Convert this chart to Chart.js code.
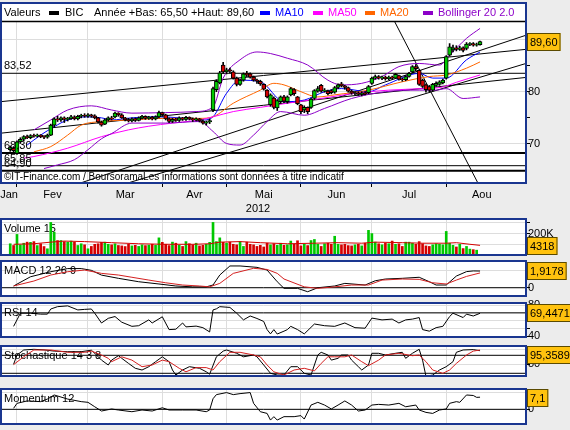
<!DOCTYPE html>
<html>
<head>
<meta charset="utf-8">
<script src="https://cdn.jsdelivr.net/npm/chart.js@4.4.1/dist/chart.umd.min.js"></script>
<style>
  body { margin: 0; background: #ececec; }
  #wrap { position: relative; width: 570px; height: 430px; overflow: hidden; }
  canvas { position: absolute; left: 0; }
</style>
</head>
<body>
<div id="wrap">
  <canvas id="cMain" width="570" height="215" style="top:0"></canvas>
  <canvas id="cVol" width="570" height="52" style="top:211px"></canvas>
  <canvas id="cMacd" width="570" height="51" style="top:253px"></canvas>
  <canvas id="cRsi" width="570" height="50" style="top:295px"></canvas>
  <canvas id="cSto" width="570" height="46" style="top:338px"></canvas>
  <canvas id="cMom" width="570" height="51" style="top:381px"></canvas>
</div>
<script>
// trading day index of first candle (0 = 1 Feb 2012)
const firstDay = -2;

const opens = [
  68.9,69.3,68.2,70.4,70.9,71.4,71.2,71.6,71.5,71.7,
  71.4,71.3,71.7,73.6,74.8,74.6,75.0,74.7,74.9,75.2,
  74.8,75.3,75.5,75.3,75.6,75.4,75.0,74.2,73.8,74.6,
  75.0,75.2,75.9,75.6,75.0,74.6,74.4,74.8,74.5,75.0,
  75.3,74.9,75.1,74.8,75.2,76.0,75.6,74.8,74.3,74.7,
  74.5,75.0,74.7,75.1,74.8,74.6,74.8,74.4,74.0,74.2,
  76.5,80.4,81.7,85.1,83.8,84.2,83.8,82.6,81.4,82.2,
  83.5,83.4,82.8,82.2,82.0,81.4,80.3,77.5,78.8,76.9,
  78.1,79.0,78.1,79.4,80.4,79.0,77.5,76.5,77.0,77.0,
  78.7,80.1,81.2,80.1,80.1,80.2,79.9,80.8,81.5,81.1,
  80.8,80.1,79.7,79.8,79.5,79.8,79.8,81.6,82.6,82.9,
  82.6,82.8,82.5,82.8,82.6,83.1,82.4,82.3,82.9,83.8,
  84.8,84.1,82.2,81.3,81.0,80.3,81.2,81.4,81.7,82.6,
  87.0,88.0,88.4,88.1,88.4,88.3,89.1,89.2,88.9,89.0
];
const closes = [
  69.3,68.7,70.4,70.9,71.4,71.2,71.6,71.5,71.7,71.4,
  71.3,71.7,73.6,74.8,74.6,75.0,74.7,74.9,75.2,74.8,
  75.3,75.5,75.3,75.6,75.4,75.0,74.2,73.6,74.6,75.0,
  74.8,75.9,75.6,75.0,74.6,74.4,74.8,74.5,75.0,75.3,
  74.9,75.1,74.8,75.2,76.0,75.6,74.8,74.3,74.7,74.5,
  75.0,74.7,75.1,74.8,74.6,74.8,74.4,74.0,74.2,74.5,
  80.6,82.0,83.6,83.8,84.2,84.0,82.6,81.4,82.2,83.4,
  83.2,82.8,82.2,82.0,81.5,80.5,79.0,79.4,77.0,78.3,
  79.0,78.2,79.0,80.6,79.6,77.7,76.2,77.0,76.2,78.6,
  80.2,80.6,80.1,80.3,79.6,79.8,80.8,81.3,81.1,80.8,
  80.1,79.7,79.8,79.5,79.8,79.6,81.0,82.6,82.9,82.6,
  82.8,82.5,82.8,82.6,83.3,82.4,82.3,82.9,83.5,84.8,
  84.4,81.4,81.0,80.4,80.3,81.4,81.6,81.9,82.2,86.7,
  88.6,88.4,88.1,88.4,87.9,89.1,89.2,88.9,89.0,89.6
];
const highs = [
  69.6,69.5,70.6,71.2,71.6,71.7,71.8,71.9,71.9,71.8,
  71.6,71.9,73.8,75.0,75.3,75.2,75.2,75.1,75.5,75.4,
  75.5,75.7,75.8,75.8,75.7,75.6,75.1,74.4,74.8,75.2,
  75.3,76.1,76.0,75.8,75.1,74.9,75.0,75.0,75.2,75.5,
  75.4,75.3,75.3,75.4,76.3,76.1,75.7,75.0,74.9,74.9,
  75.2,75.1,75.3,75.2,75.0,75.0,74.9,74.6,74.4,74.8,
  80.9,82.3,83.9,85.6,84.5,84.5,84.0,82.8,82.4,83.6,
  83.9,83.6,83.0,82.4,82.2,81.5,80.4,79.6,79.0,78.5,
  79.2,79.3,79.2,80.8,80.6,79.1,77.6,77.3,77.1,78.8,
  80.4,81.0,81.4,80.6,80.3,80.4,81.0,81.5,81.8,81.2,
  80.9,80.3,80.0,80.0,80.0,80.0,81.2,82.8,83.2,83.1,
  83.0,83.0,83.0,83.0,83.5,83.2,82.6,83.1,83.7,85.0,
  85.2,84.2,82.4,81.5,81.2,81.6,81.9,82.1,82.4,86.9,
  89.2,88.9,88.8,88.7,88.6,89.4,89.4,89.4,89.3,89.7
];
const lows = [
  68.6,68.4,68.0,70.1,70.6,71.0,71.0,71.3,71.3,71.2,
  71.0,71.1,71.6,73.2,74.3,74.3,74.1,74.4,74.7,74.6,
  74.6,75.0,75.1,75.1,75.1,74.8,74.0,73.4,73.7,74.4,
  74.6,75.0,75.3,74.9,74.4,74.2,74.2,74.3,74.4,74.8,
  74.7,74.7,74.6,74.6,75.0,75.3,74.6,74.1,74.1,74.3,
  74.3,74.5,74.5,74.6,74.3,74.4,74.2,73.8,73.6,73.9,
  76.2,80.0,81.5,83.5,83.4,83.6,82.4,81.1,81.2,82.0,
  82.9,82.6,82.0,81.6,81.2,80.3,78.8,77.2,76.7,76.4,
  77.8,77.9,77.8,79.2,79.3,77.5,75.8,76.0,75.8,76.8,
  78.5,79.9,79.9,79.9,79.4,79.6,79.7,80.6,80.9,80.5,
  79.9,79.5,79.4,79.3,79.2,79.4,79.6,81.4,82.4,82.4,
  82.3,82.2,82.3,82.4,82.5,82.2,82.0,82.1,82.8,83.6,
  84.0,81.2,80.8,79.9,80.0,80.1,81.0,81.2,81.5,82.4,
  86.8,87.6,87.8,87.9,87.6,88.0,88.8,88.7,88.7,88.9
];
// volume in thousands
const volumes = [
  105,89,192,95,110,120,118,125,88,105,
  79,58,304,213,135,135,125,120,130,120,
  89,105,95,58,80,100,105,118,120,100,
  95,105,89,85,79,100,85,90,80,95,
  88,92,100,90,160,118,100,88,120,110,
  90,80,125,105,95,110,85,90,100,118,
  304,125,160,118,110,120,100,95,125,80,
  120,100,95,80,90,75,110,95,105,90,
  110,90,95,130,100,133,85,100,88,135,
  145,100,80,105,110,100,175,100,95,100,
  88,85,95,100,85,110,230,200,120,105,
  95,110,105,130,100,105,80,120,120,110,
  100,125,105,85,80,95,105,100,95,220,
  110,90,75,100,60,80,55,50,45,4.318
];

// [day, value]
const ma10 = [[3,69.8],[7,71.7],[11,73.3],[15,74.6],[21,75.2],[25,75],[28,74.6],[34,75],[42,75.2],[48,75],[55,74.6],[58,75.2],[62,79.7],[66,82.2],[72,81.9],[79,78.1],[85,78.4],[91,80],[96,80.6],[104,80],[109,81.3],[119,83.5],[123,82.6],[127,82.6],[133,86.1],[137,87.6]];
const ma20 = [[5,68.5],[10,69.5],[15,71.7],[19,73.6],[25,74.3],[34,74.6],[44,74.9],[54,74.9],[58,75.2],[64,77.8],[72,80.3],[76,81.6],[79,81.3],[84,80],[89,79],[94,79.4],[104,80.3],[114,81.9],[122,82.9],[127,83.2],[133,84.5],[137,85.7]];
const ma50 = [[2,67.3],[5,67.6],[15,69.2],[25,71.4],[33,72.7],[39,73.4],[46,74],[54,74.6],[58,75.2],[64,76.2],[72,77],[80,77.8],[90,78.7],[100,79.7],[110,80.3],[120,80.6],[126,80.9],[130,81.8],[137,83.2]];
const bollUp = [[5,72.7],[10,74.6],[15,76.5],[22,77.3],[28,76.5],[34,75.9],[44,76],[53,76.2],[58,77.1],[61,82.6],[66,86.1],[71,87.6],[75,87.3],[80,86.4],[86,85.1],[92,82.2],[96,81.3],[102,81.6],[108,82.9],[113,84.8],[119,85.4],[125,85.1],[128,87],[133,90.2],[137,92.1]];
const bollLow = [[8,65.3],[12,66],[17,67],[21,68.9],[25,71],[28,72],[34,74],[44,74],[54,74.3],[58,72.4],[62,70.1],[66,69.8],[70,71.7],[74,74.3],[78,76.2],[85,75.5],[91,76.8],[99,78.7],[109,80],[119,80.3],[124,80.3],[127,80.6],[132,78.7],[137,79]];

const volMa15 = [[-1,100],[5,105],[10,120],[14,130],[20,125],[28,115],[36,105],[44,100],[52,100],[57,105],[60,120],[66,125],[72,115],[80,105],[88,110],[95,115],[102,110],[106,120],[114,115],[120,110],[127,110],[130,115],[134,100],[137,90]];
const macdLine = [[-1,0.2],[4,1.26],[10,1.84],[15,2.2],[19,2.2],[22,2.0],[25,1.45],[30,1.08],[36,0.69],[42,0.43],[47,0.2],[52,0.1],[56,0.1],[58,0.31],[60,1.46],[63,2.5],[66,2.5],[71,2.34],[74,2.03],[77,0.69],[79,-0.07],[83,-0.07],[86,-0.46],[89,0],[94,0.2],[97,0.5],[103,0.31],[106,0.8],[109,1.0],[114,1.08],[119,1.2],[122,0.69],[124,0.31],[127,0.31],[130,1.34],[133,1.85],[135,1.93],[137,1.9178]];
const macdSignal = [[-1,0.2],[5,0.77],[10,1.46],[15,1.84],[20,2.03],[25,1.65],[30,1.46],[34,1.2],[39,0.88],[44,0.57],[49,0.31],[54,0.2],[57,0.1],[60,0.5],[64,1.65],[70,2.23],[74,2.1],[77,1.65],[79,1.0],[85,0.1],[89,-0.07],[94,0.1],[99,0.31],[104,0.31],[108,0.88],[114,1.0],[119,0.96],[123,0.57],[127,0.43],[130,0.88],[133,1.3],[137,1.7]];
const rsi14 = [[-1,52.7],[0,61],[1,69.6],[4,69.6],[7,68.4],[9,68.4],[10,75],[12,78],[15,79],[18,73.8],[20,74.5],[22,75],[23,69.6],[25,57],[27,63],[29,65.3],[31,58],[34,52.7],[36,53.5],[39,61],[40,57],[43,65],[45,48.5],[47,49],[49,57],[50,52],[53,53],[55,51],[57,45.5],[58,73.8],[59,75.2],[60,78],[63,77],[65,69.6],[67,61],[69,66],[71,62.8],[73,59],[74,48.5],[75,43],[76,48.5],[77,42.8],[79,46.5],[80,48.5],[81,52.7],[83,48.5],[85,43],[88,55.7],[91,53.5],[94,52.7],[97,57],[100,51],[103,50.3],[105,63.3],[108,61],[111,62],[113,57],[115,61],[117,62],[119,64],[120,48.5],[122,46.5],[124,51],[126,52.7],[128,65.3],[129,69.6],[132,64],[133,68.4],[135,66],[137,69.4471]];
const stochK = [[-1,50],[0,81],[2,97.7],[5,100],[8,98],[11,94],[15,92],[19,92],[22,97],[23,86.7],[25,64],[27,47.7],[28,64],[30,78.7],[31,70],[33,53],[35,36.7],[37,31],[39,42],[41,58.7],[43,75],[45,58.7],[46,31],[47,14.3],[49,31],[51,42],[54,36.7],[56,25],[57,17],[59,75],[61,94],[62,97.7],[65,86.7],[67,75],[70,81],[71,75],[73,47.7],[75,20],[77,14.3],[79,14.3],[81,42],[83,42],[85,20],[87,14.3],[88,47.7],[89,81],[90,90],[92,81],[93,64],[95,70],[96,81],[98,81],[99,64],[101,42],[102,31],[104,47.7],[105,86.7],[107,86.7],[109,81],[112,86.7],[114,90],[115,70],[117,86.7],[119,100],[120,64],[121,10],[123,14.3],[125,31],[127,42],[129,58.7],[130,90],[132,97.7],[135,99],[137,95.3589]];
const stochD = [[-1,49],[2,75],[5,97.7],[10,97.7],[15,90],[20,90],[22,94],[25,81],[27,70],[28,58.7],[31,75],[34,64],[37,42],[40,47.7],[43,64],[45,58.7],[48,36.7],[50,25],[53,39],[56,39],[58,31],[60,58.7],[63,90],[66,90],[70,81],[72,75],[74,47.7],[76,25],[79,14.3],[82,31],[85,36.7],[88,28],[90,53],[92,75],[94,75],[97,75],[99,81],[102,58.7],[104,45.5],[107,64],[109,81],[113,86.7],[117,78.7],[119,81],[121,58.7],[123,31],[126,20],[128,31],[130,53],[133,81],[135,94],[137,97.7]];
const momentum12 = [[-1,0.6],[0,3.5],[3,4.9],[7,4.5],[9,6],[11,8.4],[15,6],[19,4.5],[21,4.1],[23,1.5],[25,-1],[28,0.2],[30,-0.4],[34,-1.4],[37,-0.4],[40,-1],[43,0.9],[45,-0.4],[49,-0.4],[53,-0.4],[56,-1.4],[57,-0.4],[58,6.2],[59,8.6],[62,9.8],[64,8.6],[66,9.2],[69,9.8],[70,3.5],[72,-1.4],[74,-2.4],[75,-6.3],[76,-4.3],[77,-6.3],[79,-4.3],[82,-4.3],[84,-3.7],[85,-5.7],[87,2.5],[89,4.1],[91,2.5],[93,0.2],[95,2.5],[97,4.9],[99,2.5],[101,-1],[103,-0.4],[105,2.5],[107,2.9],[110,2.5],[113,3.5],[115,1.5],[118,2.5],[119,-0.4],[121,-1.8],[123,-2.4],[125,-0.4],[127,0.2],[128,3.5],[130,4.5],[131,4.1],[133,8.4],[135,8.1],[136,7],[137,7.1]];

// drawn trend lines [[day, price], [day, price]]
const trendLines = [
  [[-4.73,78.1],[150.6,88.1]],
  [[-4.73,72.07],[150.6,82.73]],
  [[18.6,62.5],[150.6,90.8]],
  [[32.6,62.5],[150.6,85.4]],
  [[111.5,93.7],[136.4,62.5]]
];
const levelLines = [83.52, 68.3, 65.85, 64.9];
const levelWidths = [1, 2, 1, 2];

const monthStarts = [-22, 0, 21, 43, 62, 84, 105, 127, 148];
const monthNames = ['Jan','Fev','Mar','Avr','Mai','Jun','Jul','Aou'];

// ---------------------------------------------------------------
const X_MIN = -4.73, X_MAX = 150.6;
const FRAME = '#1a3690';
const GRID = '#dddddd';
const UP = '#00c800', DOWN = '#d40000';
const FONT = '"Liberation Sans", Arial, sans-serif';

Chart.defaults.font.family = FONT;
Chart.defaults.font.size = 11;
Chart.defaults.color = '#000';
Chart.defaults.animation = false;
Chart.defaults.events = [];
Chart.defaults.plugins.legend.display = false;
Chart.defaults.plugins.tooltip.enabled = false;

function pts(pairs) { return pairs.map(p => ({x: p[0], y: p[1]})); }
function hline(v, w) {
  return {type: 'line', data: [{x: X_MIN, y: v}, {x: X_MAX, y: v}], borderColor: '#000',
          borderWidth: w || 1, pointRadius: 0, order: 5, clip: 0};
}
function lineDs(pairs, color, smooth) {
  return {type: 'line', data: pts(pairs), borderColor: color, borderWidth: 1, pointRadius: 0,
          fill: false, cubicInterpolationMode: smooth ? 'monotone' : 'default', tension: 0,
          order: 3, clip: 0};
}

function xAxis(h, tickLen) {
  return {
    type: 'linear', min: X_MIN, max: X_MAX, offset: false,
    afterBuildTicks: s => { s.ticks = monthStarts.slice(1, -1).map(v => ({value: v})); },
    ticks: {display: false},
    grid: {color: GRID, offset: false, drawTicks: tickLen > 0, tickLength: tickLen, tickColor: '#000'},
    border: {display: false},
    afterFit: s => { s.height = h; s.paddingLeft = 0; s.paddingRight = 0; }
  };
}
function yAxis(min, max, ticks, labelFn, gridFn) {
  return {
    type: 'linear', position: 'right', min: min, max: max,
    afterBuildTicks: s => { s.ticks = ticks.map(v => ({value: v})); },
    ticks: {callback: labelFn, padding: -2, autoSkip: false, maxRotation: 0, font: {size: 11}},
    grid: {color: gridFn || GRID, tickLength: 4, tickColor: '#000'},
    border: {display: false},
    afterFit: s => { s.width = 44; s.paddingTop = 0; s.paddingBottom = 0; }
  };
}

function valueBox(ctx, text, y, a) {
  ctx.save();
  ctx.font = '11px ' + FONT;
  const w = ctx.measureText(text).width + 6;
  const yc = Math.max(a.top + 9, Math.min(a.bottom - 9, y));
  ctx.fillStyle = '#ffc20e';
  ctx.fillRect(527, Math.round(yc - 9), w, 18);
  ctx.strokeStyle = '#5a4a00';
  ctx.lineWidth = 1;
  ctx.strokeRect(527.5, Math.round(yc - 9) + 0.5, w - 1, 17);
  ctx.fillStyle = '#000';
  ctx.textBaseline = 'middle';
  ctx.fillText(text, 530, Math.round(yc) + 1);
  ctx.restore();
}

function fmt(v, d) { return v.toFixed(d).replace('.', ','); }

// sub panel decoration: white bg, title, frame, last value box
function subDeco(title, boxText, boxValue) {
  return {
    id: 'subDeco',
    beforeDraw(chart) {
      const {ctx, chartArea: a} = chart;
      ctx.save();
      ctx.fillStyle = '#fff';
      ctx.fillRect(a.left, a.top, a.right - a.left, a.bottom - a.top);
      ctx.restore();
    },
    beforeDatasetsDraw(chart) {
      const {ctx, chartArea: a} = chart;
      ctx.save();
      ctx.font = '11px ' + FONT;
      ctx.fillStyle = '#000';
      ctx.textBaseline = 'middle';
      ctx.fillText(title, 4, a.top + 10);
      ctx.restore();
    },
    afterDraw(chart) {
      const {ctx, chartArea: a} = chart;
      ctx.save();
      ctx.strokeStyle = FRAME;
      ctx.lineWidth = 2;
      ctx.strokeRect(a.left, a.top, a.right - a.left, a.bottom - a.top);
      ctx.restore();
      valueBox(ctx, boxText, chart.scales.y.getPixelForValue(boxValue), a);
    }
  };
}

// ---------------- main price panel ----------------
const candles = opens.map((o, i) => ({x: firstDay + i, y: [o, closes[i]]}));
const wicks = lows.map((l, i) => ({x: firstDay + i, y: [l, highs[i]]}));
const lastClose = closes[closes.length - 1];

const mainDeco = {
  id: 'mainDeco',
  beforeDraw(chart) {
    const ctx = chart.ctx;
    ctx.save();
    ctx.fillStyle = '#fff';
    ctx.fillRect(1, 3, 525, 180);
    ctx.restore();
  },
  afterDatasetsDraw(chart) {
    const {ctx, chartArea: a} = chart;
    const y = chart.scales.y;
    ctx.save();
    ctx.font = '11px ' + FONT;
    ctx.fillStyle = '#000';
    ctx.textBaseline = 'middle';
    levelLines.forEach(v => ctx.fillText(fmt(v, 2), 4, y.getPixelForValue(v) - 7));
    ctx.font = '10px ' + FONT;
    ctx.fillText('\u00a9IT-Finance.com / BoursoramaLes informations sont donn\u00e9es \u00e0 titre indicatif', 4, 177);
    ctx.restore();
  },
  afterDraw(chart) {
    const {ctx, chartArea: a} = chart;
    const x = chart.scales.x;
    ctx.save();
    // header legend
    ctx.font = '11px ' + FONT;
    ctx.textBaseline = 'middle';
    const hy = 13;
    ctx.fillStyle = '#000';
    ctx.fillText('Valeurs', 4, hy);
    ctx.fillRect(49, hy - 2, 10, 4);
    ctx.fillText('BIC', 65, hy);
    ctx.fillText('Ann\u00e9e +Bas: 65,50 +Haut: 89,60', 94, hy);
    [['MA10', '#0000ff', 260], ['MA50', '#ff00ff', 313], ['MA20', '#ff6600', 365], ['Bollinger 20 2.0', '#8c00c8', 423]]
      .forEach(([t, c, px]) => {
        ctx.fillStyle = c;
        ctx.fillRect(px, hy - 2, 10, 4);
        ctx.fillText(t, px + 15, hy);
      });
    // header separator
    ctx.strokeStyle = '#000';
    ctx.lineWidth = 1.5;
    ctx.beginPath(); ctx.moveTo(1, 21.5); ctx.lineTo(526, 21.5); ctx.stroke();
    // frame
    ctx.strokeStyle = FRAME;
    ctx.lineWidth = 2;
    ctx.strokeRect(1, 3, 525, a.bottom - 3);
    // month labels
    ctx.fillStyle = '#000';
    ctx.textAlign = 'center';
    monthNames.forEach((m, i) => {
      const s = Math.max(monthStarts[i], X_MIN), e = Math.min(monthStarts[i + 1], X_MAX);
      ctx.fillText(m, x.getPixelForValue((s + e) / 2), 195);
    });
    ctx.fillText('2012', 258, 209);
    ctx.restore();
    valueBox(ctx, fmt(lastClose, 2), chart.scales.y.getPixelForValue(lastClose), a);
  }
};

new Chart(document.getElementById('cMain'), {
  type: 'bar',
  data: {
    datasets: [
      ...trendLines.map(l => ({type: 'line', data: pts(l), borderColor: '#000', borderWidth: 1,
                               pointRadius: 0, order: 6, clip: 0})),
      ...levelLines.map((v, i) => hline(v, levelWidths[i])),
      lineDs(bollUp, '#8c00c8', true),
      lineDs(bollLow, '#8c00c8', true),
      lineDs(ma50, '#ff00ff', true),
      lineDs(ma20, '#ff6600', true),
      lineDs(ma10, '#0000ff', true),
      {type: 'bar', data: wicks, backgroundColor: '#000', barThickness: 1, grouped: false, order: 2, clip: 0},
      {type: 'bar', data: candles, grouped: false, order: 1, clip: 0,
       backgroundColor: c => (c.raw.y[1] >= c.raw.y[0] ? UP : DOWN),
       borderColor: '#000', borderWidth: 1, borderSkipped: false, barThickness: 4}
    ]
  },
  options: {
    responsive: false, devicePixelRatio: 1,
    layout: {padding: {top: 22, left: 1, right: 0, bottom: 0}},
    scales: {
      x: xAxis(32, 4),
      y: yAxis(62.54, 93.33, [70, 75, 80, 85, 90],
               v => (v % 10 === 0 ? String(v) : ''),
               c => (c.tick && c.tick.value % 10 === 0 ? GRID : 'rgba(0,0,0,0)'))
    }
  },
  plugins: [mainDeco]
});

// ---------------- sub panels ----------------
function subChart(id, datasets, yCfg, deco, type) {
  return new Chart(document.getElementById(id), {
    type: type || 'line',
    data: {datasets: datasets},
    options: {
      responsive: false, devicePixelRatio: 1,
      layout: {padding: {top: 8, left: 1, right: 0, bottom: 8}},
      scales: {x: xAxis(0, 0), y: yCfg}
    },
    plugins: [deco]
  });
}

const volColors = closes.map((c, i) => (c >= opens[i] ? UP : DOWN));
subChart('cVol', [
  lineDs(volMa15, '#d40000', false),
  {type: 'bar', data: volumes.map((v, i) => ({x: firstDay + i, y: v})), backgroundColor: volColors,
   barThickness: 2, grouped: false, order: 4, clip: 0}
], yAxis(0, 336, [100, 200, 300], v => (v === 200 ? '200K' : '')),
   subDeco('Volume 15', String(Math.round(volumes[volumes.length - 1] * 1000)), volumes[volumes.length - 1]), 'bar');

subChart('cMacd', [
  hline(0),
  lineDs(macdSignal, '#d42020', false),
  lineDs(macdLine, '#000', false)
], yAxis(-0.95, 3.07, [0, 2], v => (v === 0 ? '0' : '')),
   subDeco('MACD 12 26 9', '1,9178', macdLine[macdLine.length - 1][1]));

subChart('cRsi', [
  hline(70),
  lineDs(rsi14, '#000', false)
], yAxis(39, 82.7, [40, 50, 60, 70, 80], v => (v === 40 || v === 80 ? String(v) : '')),
   subDeco('RSI 14', '69,4471', rsi14[rsi14.length - 1][1]));

subChart('cSto', [
  hline(80), hline(20),
  lineDs(stochD, '#d42020', false),
  lineDs(stochK, '#000', false)
], yAxis(11, 111, [50, 100], v => (v === 50 ? '50' : '')),
   subDeco('Stochastique 14 3 8', '95,3589', stochK[stochK.length - 1][1]));

subChart('cMom', [
  hline(0),
  lineDs(momentum12, '#000', false)
], yAxis(-8.6, 11.9, [0, 10], v => (v === 0 ? '0' : '')),
   subDeco('Momentum 12', '7,1', momentum12[momentum12.length - 1][1]));
</script>
</body>
</html>
